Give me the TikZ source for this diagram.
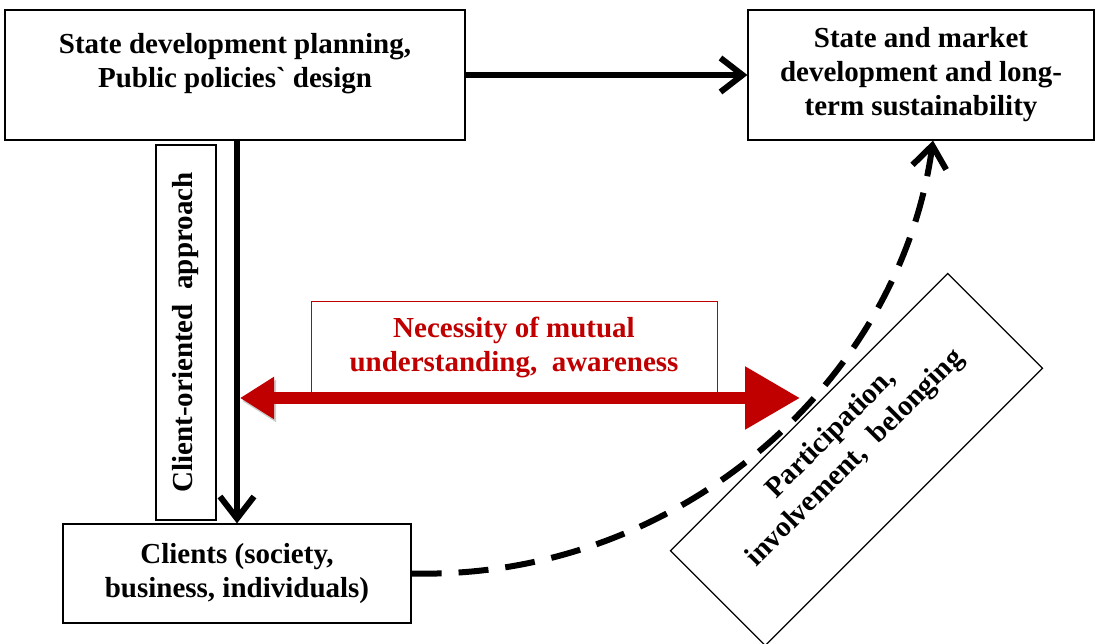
\documentclass[tikz,border=0pt]{standalone}
\usepackage{fontspec}
\setmainfont{Liberation Serif}
\usepackage{xcolor}
\usetikzlibrary{arrows.meta}
\usetikzlibrary{calc}
\usetikzlibrary{positioning}
\definecolor{darkred}{RGB}{192,0,0}

\begin{document}
\begin{tikzpicture}
  [
    x = 1pt, y = -1pt,
    txt/.style = {align = center, inner sep = 0pt,
                  font = \fontsize{29}{34}\selectfont\bfseries},
    box/.style = {txt, draw, line width = 1.2pt},
    redbox/.style = {box, draw = darkred, line width = 1pt, text = darkred},
    flow/.style = {line width = 6pt, -{Straight Barb[length = 22pt, width = 34pt]}},
    aware/.style = {draw = darkred, line width = 12pt,
                    {Triangle[length = 34pt, width = 40pt]}-{Triangle[length = 55pt, width = 60pt]},
                    preaction = {draw = black!20, transform canvas = {shift = {(2pt,-3pt)}}}},
  ]
  \useasboundingbox (0,0) rectangle (1098,644);

  \node[box, minimum width = 460pt, minimum height = 130pt] (plan) at (235,75) {};
  \node[txt] (plan_text) at ([yshift = 11pt]plan.center)
    {State development planning,\\ Public policies\textasciigrave\ design};

  \node[box, minimum width = 346pt, minimum height = 130pt] (goal) at (921,75)
    {State and market\\ development and long-\\ term sustainability};

  \node[box, minimum width = 348pt, minimum height = 99pt] (clients) at (237,573.5)
    {Clients (society,\\ business, individuals)};

  \node[box, rotate = 90, minimum width = 375pt, minimum height = 60pt] (approach) at (186,332.5)
    {Client-oriented\ \ approach};

  \node[redbox, minimum width = 406pt, minimum height = 91pt] (aware_box) at (514,347.5)
    {Necessity of mutual\\ understanding,\ \ awareness};

  \node[box, rotate = 45, minimum width = 392pt, minimum height = 134pt] (part_box) at (856.5,459.5) {};
  \node[txt, rotate = 45] (part_text) at ([xshift = -13pt, yshift = 13pt]part_box.center)
    {Participation,\\ involvement,\ \ belonging};

  % connectors
  \draw[flow] (plan) -- (goal);
  \draw[flow] (plan.south -| clients.north) -- (clients.north);

  \coordinate (aware_l) at (240,398);
  \coordinate (aware_r) at (800,398);
  \draw[aware] (aware_l) -- (aware_r);

  \draw[flow, dash pattern = on 30pt off 17pt] (clients.east)
    .. controls (680,580) and (900,380) .. ([xshift = 12pt]goal.south);
\end{tikzpicture}
\end{document}
